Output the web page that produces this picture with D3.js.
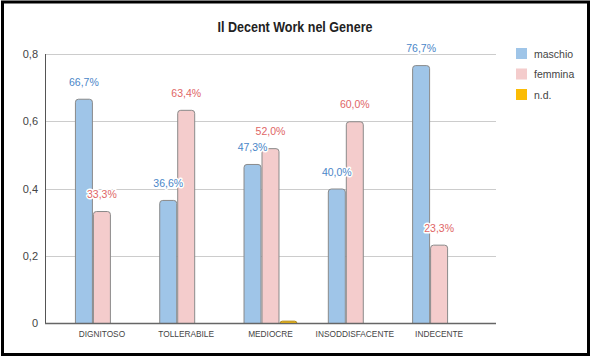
<!DOCTYPE html>
<html>
<head>
<meta charset="utf-8">
<script src="https://cdn.jsdelivr.net/npm/d3@7/dist/d3.min.js"></script>
<style>
  html, body { margin: 0; padding: 0; background: #fff; }
  svg { display: block; font-family: "Liberation Sans", Arial, sans-serif; }
</style>
</head>
<body>
<svg id="chart" width="591" height="359"></svg>
<script>
const title = "Il Decent Work nel Genere";
const categories = ["DIGNITOSO", "TOLLERABILE", "MEDIOCRE", "INSODDISFACENTE", "INDECENTE"];
const seriesNames = ["maschio", "femmina", "n.d."];
const maschio = [0.667, 0.366, 0.473, 0.400, 0.767];
const femmina = [0.333, 0.634, 0.520, 0.600, 0.233];
const nd = [0, 0, 0.007, 0, 0];
const yTicks = [0, 0.2, 0.4, 0.6, 0.8];
const seriesColors = ["#9fc5e8", "#f4cccc", "#fbbc04"];
const labelColors = ["#4a86c8", "#e06666", null];

const values = [maschio, femmina, nd];
const it = d3.formatLocale({decimal: ",", thousands: ".", grouping: [3], currency: ["€", ""]});
const tickFmt = it.format(".1~f");
const pctFmt = it.format(".1%");

const svg = d3.select("#chart");
const mLeft = 45, mRight = 496, mTop = 54, mBottom = 323;

const x = d3.scaleBand().domain(categories).range([mLeft, mRight]).paddingInner(0.36).paddingOuter(0.355);
const xs = d3.scaleBand().domain(seriesNames).range([0, x.bandwidth()]);
const y = d3.scaleLinear().domain([0, 0.8]).range([mBottom, mTop]);

// outer frame
svg.append("rect").attr("x", 2.5).attr("y", 2).attr("width", 586).attr("height", 352.5)
  .attr("fill", "none").attr("stroke", "#000").attr("stroke-width", 3);

// title
svg.append("text").attr("x", 295).attr("y", 32).attr("text-anchor", "middle")
  .attr("font-size", 14).attr("font-weight", "bold").attr("fill", "#222")
  .attr("textLength", 155).attr("lengthAdjust", "spacingAndGlyphs")
  .text(title);

// gridlines
svg.append("g").selectAll("line").data(yTicks.filter(d => d > 0)).join("line")
  .attr("x1", mLeft).attr("x2", mRight)
  .attr("y1", d => Math.round(y(d)) + 0.5).attr("y2", d => Math.round(y(d)) + 0.5)
  .attr("stroke", "#cccccc").attr("stroke-width", 1);

// y axis labels
const yAxis = d3.axisLeft(y).tickValues(yTicks).tickFormat(tickFmt).tickSize(0).tickPadding(7);
const gy = svg.append("g").attr("transform", `translate(${mLeft},0)`).call(yAxis);
gy.select(".domain").remove();
gy.selectAll("text").attr("font-size", 11).attr("fill", "#444")
  .attr("font-family", "'Liberation Sans', Arial, sans-serif");

// bars
function barPath(x0, y0, w, h, r) {
  r = Math.min(r, h, w / 2);
  return `M${x0},${y0 + h}V${y0 + r}Q${x0},${y0} ${x0 + r},${y0}H${x0 + w - r}Q${x0 + w},${y0} ${x0 + w},${y0 + r}V${y0 + h}Z`;
}
const gBars = svg.append("g");
seriesNames.forEach((s, si) => {
  categories.forEach((c, ci) => {
    const v = values[si][ci];
    if (v <= 0) return;
    const bx = x(c) + xs(s);
    const by = y(v);
    const h = y(0) - by;
    gBars.append("path")
      .attr("d", barPath(bx + 0.5, by + 0.5, xs.bandwidth() - 1, h, 3))
      .attr("fill", seriesColors[si])
      .attr("stroke", si === 2 ? "#b08a1a" : "#8a8a8a").attr("stroke-width", 1);
  });
});

// x baseline & y axis line
svg.append("line").attr("x1", mLeft + 0.5).attr("x2", mLeft + 0.5).attr("y1", mTop).attr("y2", mBottom)
  .attr("stroke", "#555").attr("stroke-width", 1);
svg.append("line").attr("x1", mLeft).attr("x2", mRight).attr("y1", mBottom + 0.5).attr("y2", mBottom + 0.5)
  .attr("stroke", "#666").attr("stroke-width", 1.5);

// data labels
seriesNames.forEach((s, si) => {
  if (!labelColors[si]) return;
  categories.forEach((c, ci) => {
    const v = values[si][ci];
    const cx = x(c) + xs(s) + xs.bandwidth() / 2;
    svg.append("text").attr("x", cx).attr("y", y(v) - 13)
      .attr("text-anchor", "middle").attr("font-size", 10.5)
      .attr("fill", labelColors[si])
      .attr("stroke", "#fff").attr("stroke-width", 3).attr("paint-order", "stroke")
      .attr("stroke-linejoin", "round")
      .text(pctFmt(v));
  });
});

// category labels
svg.append("g").selectAll("text").data(categories).join("text")
  .attr("x", d => x(d) + x.bandwidth() / 2).attr("y", 337)
  .attr("text-anchor", "middle").attr("font-size", 8.3).attr("fill", "#444")
  .text(d => d);

// legend
const lg = svg.append("g").attr("transform", "translate(516,48)");
seriesNames.forEach((s, i) => {
  lg.append("rect").attr("x", 0).attr("y", i * 20.5).attr("width", 11).attr("height", 11)
    .attr("fill", seriesColors[i]);
  lg.append("text").attr("x", 18).attr("y", i * 20.5 + 9.5)
    .attr("font-size", 10.5).attr("fill", "#444").text(s);
});
</script>
</body>
</html>
